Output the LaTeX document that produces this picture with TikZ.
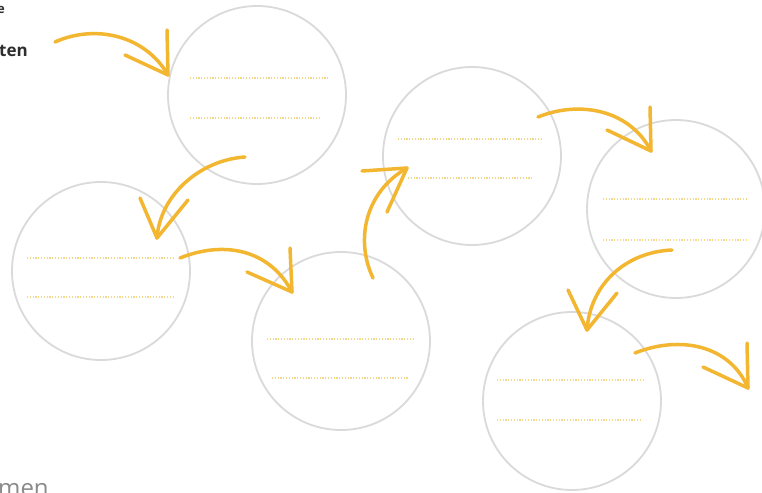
\documentclass[tikz,border=0pt]{standalone}
\usepackage{fontspec}
\setsansfont{Open Sans}
\usetikzlibrary{calc}
\definecolor{ringgray}{HTML}{DADADA}
\definecolor{arrowgold}{HTML}{F2B630}
\definecolor{dotyellow}{HTML}{F3D98A}
\definecolor{textdark}{HTML}{2E2E2E}
\definecolor{textgray}{HTML}{8A8A8A}
\begin{document}
\begin{tikzpicture}[x=1pt,y=-1pt,
  ring/.style={draw=ringgray,line width=1.8pt,circle,minimum size=178pt,inner sep=0pt},
  writeline/.style={draw=dotyellow,line width=1.3pt,dash pattern=on 1.2pt off 1.6pt},
  curvearrow/.style={draw=arrowgold,line width=3.5pt,line cap=round,line join=round}]
\useasboundingbox (0,0) rectangle (762,492);
\fill[white] (0,0) rectangle (762,492);
\begin{scope}
\clip (0,0) rectangle (762,492);
% circles
\node[ring] (c1) at (257,95) {};
\node[ring] (c2) at (101,271) {};
\node[ring] (c3) at (341,341) {};
\node[ring] (c4) at (472,156) {};
\node[ring] (c5) at (676,209) {};
\node[ring] (c6) at (572,401) {};
% writing lines
\draw[writeline] ($(c1)+(-67,-17)$) -- ++(138,0);
\draw[writeline] ($(c1)+(-67,23)$) -- ++(130,0);
\draw[writeline] ($(c2)+(-74,-13)$) -- ++(146,0);
\draw[writeline] ($(c2)+(-74,26)$) -- ++(146,0);
\draw[writeline] ($(c3)+(-74,-2)$) -- ++(146,0);
\draw[writeline] ($(c3)+(-69,37)$) -- ++(136,0);
\draw[writeline] ($(c4)+(-74,-17)$) -- ++(145,0);
\draw[writeline] ($(c4)+(-64,22)$) -- ++(125,0);
\draw[writeline] ($(c5)+(-73,-10)$) -- ++(145,0);
\draw[writeline] ($(c5)+(-73,31)$) -- ++(145,0);
\draw[writeline] ($(c6)+(-75,-21)$) -- ++(148,0);
\draw[writeline] ($(c6)+(-75,19)$) -- ++(145,0);
% arrow coordinates
\coordinate (s1) at (55,42);   \coordinate (t1) at (168,75);
\coordinate (s2) at (245,157); \coordinate (t2) at (157,238);
\coordinate (s3) at (180,258); \coordinate (t3) at (292,292);
\coordinate (s4) at (373,278); \coordinate (t4) at (407,168);
\coordinate (s5) at (538,117); \coordinate (t5) at (651,151);
\coordinate (s6) at (672,250); \coordinate (t6) at (587,330);
\coordinate (s7) at (635,353); \coordinate (t7) at (748,388);
% arrows
\draw[curvearrow] (s1) .. controls (95,24) and (145,35) .. (t1);
\draw[curvearrow] (167,30) -- (t1) -- (125,55);
\draw[curvearrow] (s2) .. controls (200,160) and (160,195) .. (t2);
\draw[curvearrow] (140,198) -- (t2) -- (188,200);
\draw[curvearrow] (s3) .. controls (225,240) and (270,250) .. (t3);
\draw[curvearrow] (290,248) -- (t3) -- (247,272);
\draw[curvearrow] (s4) .. controls (355,240) and (365,192) .. (t4);
\draw[curvearrow] (362,171) -- (t4) -- (387,212);
\draw[curvearrow] (s5) .. controls (580,100) and (630,110) .. (t5);
\draw[curvearrow] (650,107) -- (t5) -- (607,130);
\draw[curvearrow] (s6) .. controls (625,252) and (590,285) .. (t6);
\draw[curvearrow] (568,290) -- (t6) -- (617,293);
\draw[curvearrow] (s7) .. controls (680,335) and (730,345) .. (t7);
\draw[curvearrow] (747,343) -- (t7) -- (703,367);
% cut-off texts
\node[anchor=base east,inner sep=0pt,text=textdark,font=\sffamily\bfseries\fontsize{13}{15}\selectfont] (txtA) at (5,14) {e};
\node[anchor=base east,inner sep=0pt,text=textdark,font=\sffamily\bfseries\fontsize{17}{19}\selectfont] (txtB) at (28,57) {ten};
\node[anchor=base west,inner sep=0pt,text=textgray,font=\sffamily\fontsize{24}{28}\selectfont] (txtC) at (-2,496) {men};
\end{scope}
\end{tikzpicture}
\end{document}
